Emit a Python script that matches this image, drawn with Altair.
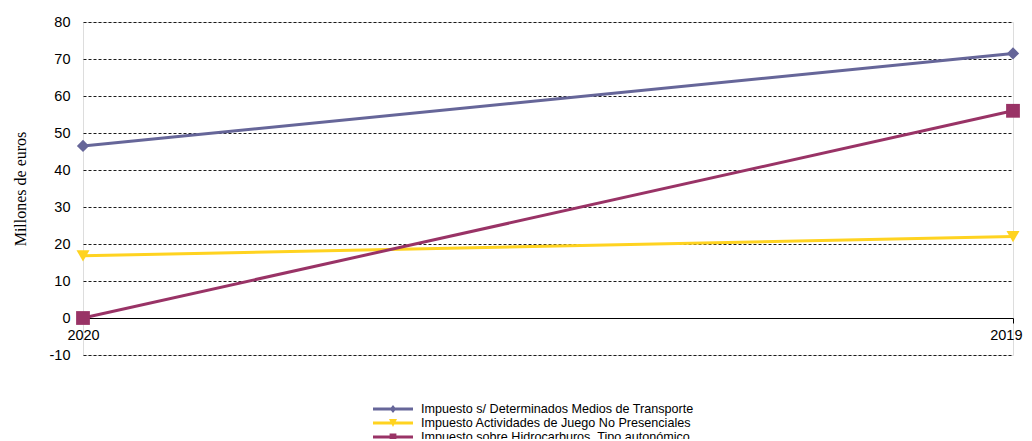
import altair as alt
import pandas as pd

years = ["2020", "2019"]
series = [
    "Impuesto s/ Determinados Medios de Transporte",
    "Impuesto Actividades de Juego No Presenciales",
    "Impuesto sobre Hidrocarburos. Tipo autonómico",
]
transporte = [46.5, 71.5]
juego = [16.8, 22.0]
hidrocarburos = [0.0, 56.0]
colors = ["#666699", "#FFD320", "#993366"]
y_ticks = [-10, 0, 10, 20, 30, 40, 50, 60, 70, 80]

rows = []
for name, vals in zip(series, [transporte, juego, hidrocarburos]):
    for yr, v in zip(years, vals):
        rows.append({"anio": yr, "serie": name, "valor": v})
df = pd.DataFrame(rows)

W, H = 930, 333
x_enc = alt.X("anio:N", sort=years, title=None,
              scale=alt.Scale(type="point", padding=0),
              axis=alt.Axis(offset=-37, labelAngle=0, domainColor="#000000", domainWidth=1,
                            tickColor="#000000", tickSize=5, labelPadding=5,
                            labelAlign={"condition": {"test": "datum.value == '2019'", "value": "right"},
                                        "value": "center"},
                            labelOffset={"condition": {"test": "datum.value == '2019'", "value": 9},
                                         "value": 0},
                            labelFont="Liberation Sans", labelFontSize=14.5, labelColor="#000000",
                            grid=False))
y_enc = alt.Y("valor:Q", title="Millones de euros",
              scale=alt.Scale(domain=[-10, 80], nice=False, zero=False),
              axis=alt.Axis(values=y_ticks, domain=False, ticks=False, labelPadding=13,
                            labelExpr="replace(datum.label, '\u2212', '-')",
                            labelFont="Liberation Sans", labelFontSize=14.5, labelColor="#000000",
                            grid=True, gridColor="#1a1a1a", gridDash=[3, 2], gridWidth=1,
                            titleFont="Liberation Serif", titleFontSize=16, titleFontWeight="normal",
                            titleColor="#000000", titlePadding=21))
color_scale = alt.Scale(domain=series, range=colors)

bar = "M-1,-0.075H1V0.075H-1Z"
legend_paths = [
    bar + "M0,-0.2L0.16,0L0,0.2L-0.16,0Z",
    bar + "M-0.2,-0.2L0.2,-0.2L0,0.2Z",
    bar + "M-0.17,-0.17H0.17V0.17H-0.17Z",
]
legend = alt.Legend(orient="none", legendX=290, legendY=380, direction="vertical",
                    title=None, symbolOpacity=1, symbolSize=1600, symbolStrokeWidth=0,
                    symbolType="square",
                    clipHeight=14, rowPadding=0, labelOffset=8,
                    labelFont="Liberation Sans", labelFontSize=12.6,
                    labelColor="#000000", labelLimit=400)
color_enc = alt.Color("serie:N", scale=color_scale, legend=legend)

lines = alt.Chart(df).mark_line(strokeWidth=3).encode(
    x=x_enc, y=y_enc, color=color_enc, detail="serie:N",
)

shapes_plot = ["diamond", "triangle-down", "square"]
sizes_plot = [150, 170, 190]
point_layers = []
for name, shp, sz in zip(series, shapes_plot, sizes_plot):
    point_layers.append(
        alt.Chart(df).transform_filter(alt.datum.serie == name).mark_point(
            shape=shp, size=sz, filled=True, opacity=1
        ).encode(x=x_enc, y=y_enc, color=color_enc)
    )

legend_layer = alt.Chart(df).mark_point(filled=True, opacity=0).encode(
    x=x_enc, y=y_enc, color=color_enc,
    shape=alt.Shape("serie:N", scale=alt.Scale(domain=series, range=legend_paths), legend=legend),
)

chart = alt.layer(lines, *point_layers, legend_layer).properties(
    width=W, height=H,
    autosize=alt.AutoSizeParams(type="none"),
    padding={"left": 75, "top": 14, "right": 10, "bottom": 84},
).configure_view(stroke=None).configure(background="#ffffff")

chart.save("out.html", embed_options={"renderer": "svg", "actions": False})
